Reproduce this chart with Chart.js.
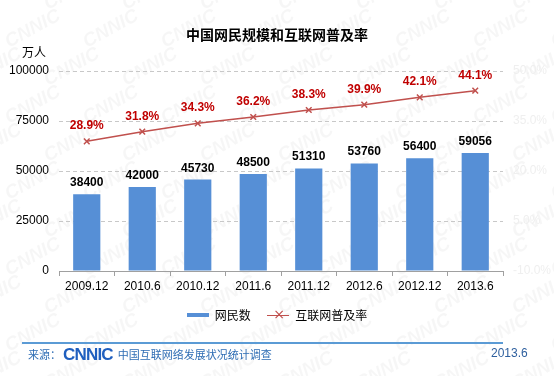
<!DOCTYPE html>
<html>
<head>
<meta charset="utf-8">
<script src="https://cdn.jsdelivr.net/npm/chart.js@4"></script>
<style>
  html, body { margin:0; padding:0; background:#fff; }
  #wrap { position:relative; width:554px; height:376px; overflow:hidden; background:#fff;
          font-family:"Liberation Sans", Arial, "Noto Sans CJK SC", sans-serif; }
  #wm { position:absolute; left:0; top:0; }
  #chartBox { position:absolute; left:0; top:0; width:554px; height:300px; }
  .title { position:absolute; left:0; width:554px; top:24px; text-align:center;
           font:bold 14px "Noto Sans CJK SC", sans-serif; color:#000; }
  .unit { position:absolute; left:22px; top:43px; font:12px "Noto Sans CJK SC", sans-serif; color:#000; }
  .legend { position:absolute; left:0; width:554px; top:304px; text-align:center;
            font:12px "Noto Sans CJK SC", sans-serif; color:#000; }
  .legend span { display:inline-block; vertical-align:middle; }
  .sw-bar { width:22px; height:4px; background:#568fd6; margin-right:6px; }
  .sw-line { position:relative; width:22px; height:12px; margin:0 6px 0 14px; }
  .sw-line:before { content:""; position:absolute; left:0; right:0; top:6px; height:1.5px; background:#c0504d; }
  .sw-line:after { content:"\00d7"; position:absolute; left:6px; top:-3px; color:#c0504d;
                   font:14px "DejaVu Sans", sans-serif; }
  .rule { position:absolute; left:22px; top:342px; width:481px; height:2px; background:#5b9bd5; }
  .src { position:absolute; left:28px; top:345px; color:#2e6db4; font:11px "Noto Sans CJK SC", sans-serif;
         white-space:nowrap; line-height:18px; }
  .src .logo { font:bold 17px "Liberation Sans", Arial, sans-serif; letter-spacing:-0.8px;
               color:#1f5fbf; margin:0 5px 0 2px; vertical-align:-1px; }
  .date { position:absolute; left:491px; top:346px; color:#2e5f9e; font:12px "Liberation Sans", Arial, sans-serif; }
</style>
</head>
<body>
<div id="wrap">
  <canvas id="wm" width="554" height="376"></canvas>
  <div class="title">中国网民规模和互联网普及率</div>
  <div class="unit">万人</div>
  <div id="chartBox"><canvas id="netChart"></canvas></div>
  <div class="legend">
    <span class="sw-bar"></span><span>网民数</span>
    <span class="sw-line"></span><span>互联网普及率</span>
  </div>
  <div class="rule"></div>
  <div class="src">来源：<span class="logo">CNNIC</span>中国互联网络发展状况统计调查</div>
  <div class="date">2013.6</div>
</div>
<script>
// ── Data ──────────────────────────────────────────────────
const PERIODS   = ['2009.12','2010.6','2010.12','2011.6','2011.12','2012.6','2012.12','2013.6'];
const NETIZENS  = [38400, 42000, 45730, 48500, 51310, 53760, 56400, 59056];
const PENETRATE = [28.9, 31.8, 34.3, 36.2, 38.3, 39.9, 42.1, 44.1];
const Y_TICKS   = [0, 25000, 50000, 75000, 100000];
const Y1_TICKS  = [-10, 5, 20, 35, 50];

const BLUE = '#568fd6';
const RED  = '#c0504d';
const LAB_RED = '#c00000';

// ── Watermark (background texture) ────────────────────────
(function() {
  const ctx = document.getElementById('wm').getContext('2d');
  ctx.fillStyle = 'rgba(0,0,0,0.035)';
  ctx.font = 'bold italic 19px "Liberation Sans", Arial, sans-serif';
  for (let row = 0; row < 11; row++) {
    for (let col = 0; col < 9; col++) {
      const x = col * 78 + (row % 2) * 39 - 30;
      const y = row * 38 + 10;
      ctx.save();
      ctx.translate(x, y);
      ctx.rotate(-0.5);
      ctx.fillText('CNNIC', 0, 0);
      ctx.restore();
    }
  }
})();

// ── Value labels ──────────────────────────────────────────
const valueLabels = {
  id: 'valueLabels',
  afterDatasetsDraw(chart) {
    const ctx = chart.ctx;
    ctx.save();
    ctx.textAlign = 'center';
    ctx.textBaseline = 'alphabetic';
    ctx.font = 'bold 12px "Liberation Sans", Arial, sans-serif';
    chart.getDatasetMeta(0).data.forEach((bar, i) => {
      ctx.fillStyle = '#000';
      ctx.fillText(String(NETIZENS[i]), bar.x, bar.y - 8);
    });
    chart.getDatasetMeta(1).data.forEach((pt, i) => {
      ctx.fillStyle = LAB_RED;
      ctx.fillText(PENETRATE[i].toFixed(1) + '%', pt.x, pt.y - 12);
    });
    ctx.restore();
  }
};

const font12 = { family: '"Liberation Sans", Arial, sans-serif', size: 12 };

new Chart(document.getElementById('netChart'), {
  data: {
    labels: PERIODS,
    datasets: [
      {
        type: 'bar', label: '网民数', data: NETIZENS, yAxisID: 'y',
        backgroundColor: BLUE, borderWidth: 0,
        barPercentage: 0.49, categoryPercentage: 1, order: 2
      },
      {
        type: 'line', label: '互联网普及率', data: PENETRATE, yAxisID: 'y1',
        borderColor: RED, borderWidth: 1.5, tension: 0,
        pointStyle: 'crossRot', pointRadius: 4, pointBorderWidth: 1.5,
        pointBorderColor: RED, pointBackgroundColor: RED, order: 1
      }
    ]
  },
  options: {
    responsive: true, maintainAspectRatio: false, animation: false,
    layout: { padding: { top: 71, left: 0, right: 0, bottom: 0 } },
    plugins: { legend: { display: false }, tooltip: { enabled: false } },
    scales: {
      x: {
        offset: true,
        grid: { offset: true, drawOnChartArea: false, drawTicks: true, tickLength: 5, color: '#a0a0a0' },
        border: { display: true, color: '#a0a0a0' },
        ticks: { color: '#000', font: font12, padding: 3, maxRotation: 0 },
        afterFit: s => { s.height = 29; }
      },
      y: {
        position: 'left', min: 0, max: 100000,
        afterBuildTicks: s => { s.ticks = Y_TICKS.map(v => ({ value: v })); },
        grid: { color: '#c8c8c8', drawTicks: false },
        border: { display: false, dash: [4, 3] },
        ticks: { color: '#000', font: font12, padding: 10, callback: v => String(v) },
        afterFit: s => { s.width = 59; }
      },
      y1: {
        position: 'right', min: -10, max: 50,
        afterBuildTicks: s => { s.ticks = Y1_TICKS.map(v => ({ value: v })); },
        grid: { display: false, drawTicks: false },
        border: { display: false },
        ticks: { color: '#efefef', font: font12, padding: 10, callback: v => v.toFixed(1) + '%' },
        afterFit: s => { s.width = 51; }
      }
    }
  },
  plugins: [valueLabels]
});
</script>
</body>
</html>
